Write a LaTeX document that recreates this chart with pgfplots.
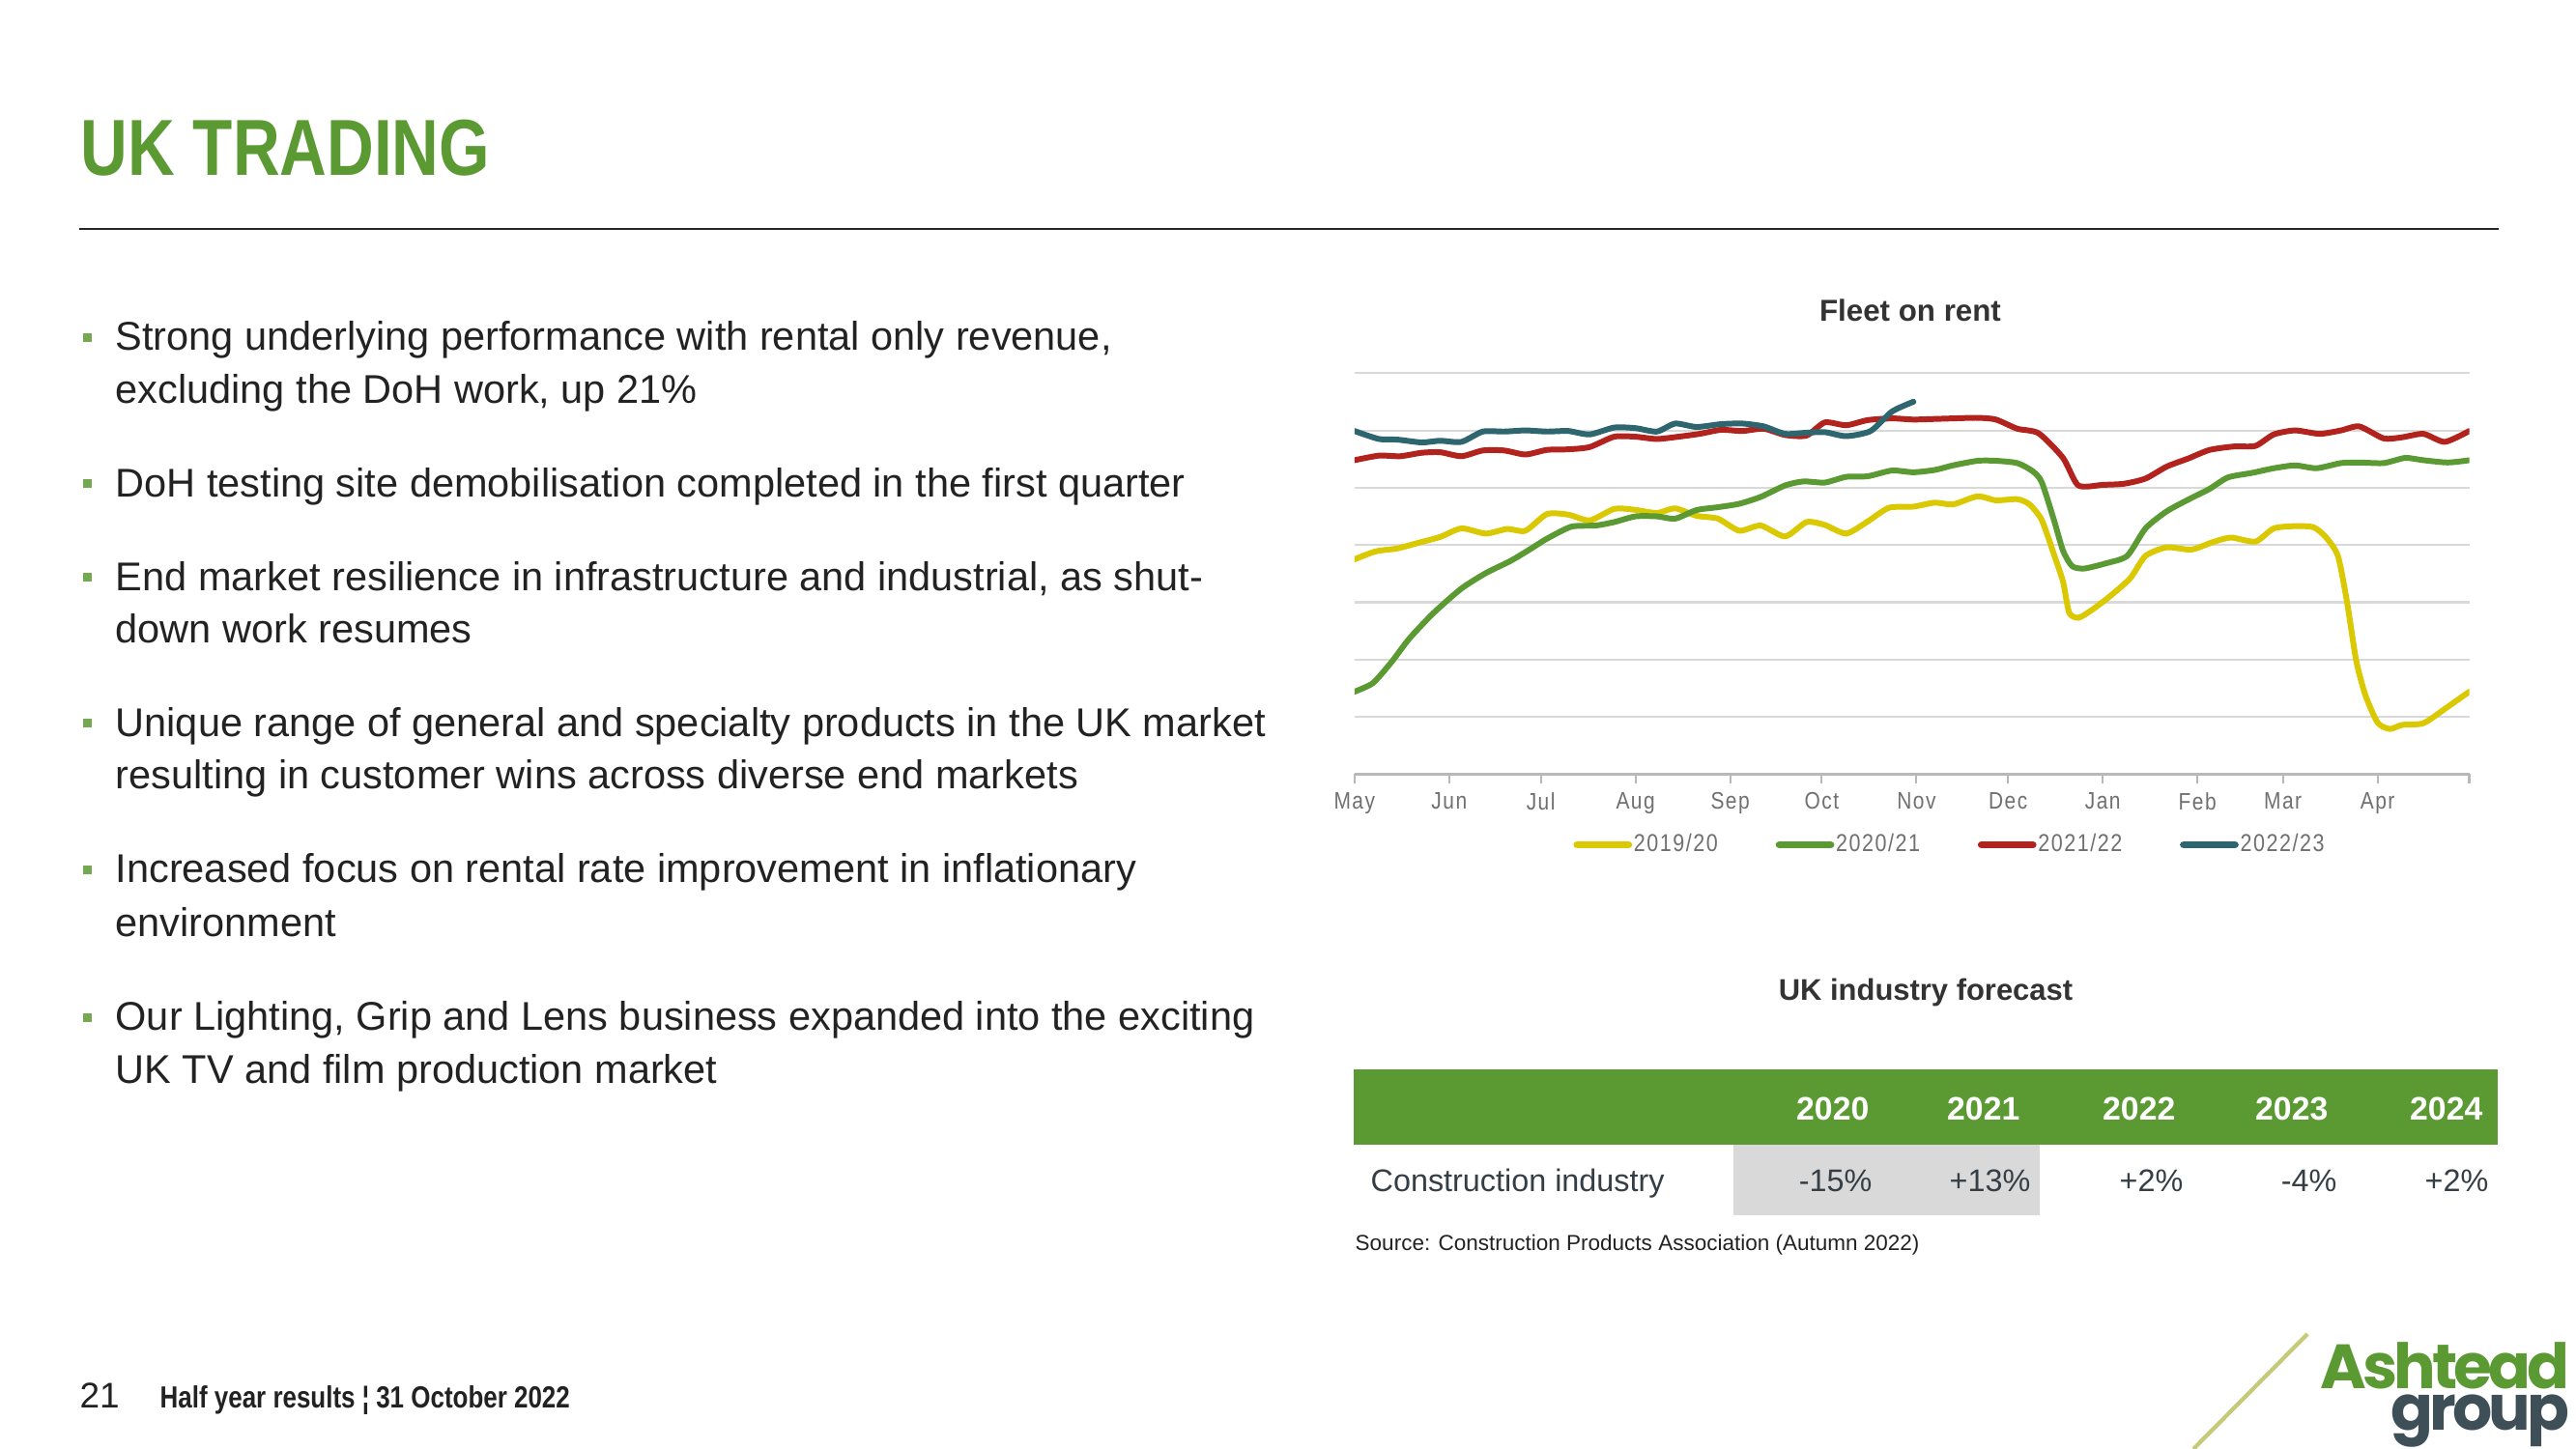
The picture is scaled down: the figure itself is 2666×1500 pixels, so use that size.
\documentclass[border=0pt]{standalone}
\usepackage{pgfplots}
\pgfplotsset{compat=1.18}
\usepackage{fontspec}
\setmainfont{Liberation Sans}
\newfontfamily\condfont{Liberation Sans}[FakeStretch=0.82]
\newfontfamily\tickfont{Liberation Sans}[FakeStretch=0.85,LetterSpace=6]
\newfontfamily\logofont{Poppins}[LetterSpace=-6]
\definecolor{agreen}{HTML}{5B9A32}
\definecolor{ayellow}{HTML}{DAC800}
\definecolor{ared}{HTML}{B3231E}
\definecolor{ateal}{HTML}{2E6670}
\definecolor{txt}{HTML}{222222}
\definecolor{gridc}{HTML}{D9D9D9}
\definecolor{tickc}{HTML}{707070}
\definecolor{tabtxt}{HTML}{363E45}
\definecolor{cellgray}{HTML}{D9D9D9}
\definecolor{logogrey}{HTML}{3E4F58}
\definecolor{olive}{HTML}{C5CA78}
\begin{document}
\begin{tikzpicture}[x=0.01cm,y=-0.01cm]
\fill[white] (0,0) rectangle (2666,1500);
% title and rule
\node[anchor=base west, inner sep=0, text=agreen, font=\condfont\bfseries\fontsize{23.4}{28}\selectfont] at (83,182) {UK TRADING};
\draw[line width=0.6pt, black!85] (82,237) -- (2586,237);
% bullets
\foreach \yy in {349,500,597,748,900,1053}{
  \fill[agreen!85!white] (85.5,\yy-4.5) rectangle (94.5,\yy+4.5);
}
\tikzset{bt/.style={anchor=base west, inner sep=0, text=txt, font=\fontsize{11.8}{13}\selectfont}}
\node[bt] at (119,363) {Strong underlying performance with rental only revenue,};
\node[bt] at (119,417) {excluding the DoH work, up 21\%};
\node[bt] at (119,514) {DoH testing site demobilisation completed in the first quarter};
\node[bt] at (119,611) {End market resilience in infrastructure and industrial, as shut-};
\node[bt] at (119,665) {down work resumes};
\node[bt] at (119,762) {Unique range of general and specialty products in the UK market};
\node[bt] at (119,816) {resulting in customer wins across diverse end markets};
\node[bt] at (119,913) {Increased focus on rental rate improvement in inflationary};
\node[bt] at (119,969) {environment};
\node[bt] at (119,1066) {Our Lighting, Grip and Lens business expanded into the exciting};
\node[bt] at (119,1121) {UK TV and film production market};
% chart title
\node[anchor=center, inner sep=0, text=black!80, font=\bfseries\fontsize{8.9}{10}\selectfont] at (1977,321) {Fleet on rent};
% chart
\begin{axis}[at={(14.01cm,-8.01cm)}, anchor=south west,
  width=11.53cm, height=4.15cm, scale only axis,
  xmin=0, xmax=365, ymin=0, ymax=7,
  axis x line*=bottom, axis y line*=left,
  y axis line style={draw=none},
  x axis line style={gridc!85!black, line width=0.6pt},
  ytick={1,2,3,4,5,6,7}, yticklabels={}, ytick style={draw=none},
  ymajorgrids, grid style={gridc, line width=0.6pt},
  xtick={0,31,61,92,123,153,184,214,245,276,304,335,365},
  xticklabels={May,Jun,Jul,Aug,Sep,Oct,Nov,Dec,Jan,Feb,Mar,Apr,{}},
  xtick style={gridc!85!black, line width=0.6pt},
  tick align=outside, major tick length=0.1cm,
  xticklabel style={font=\tickfont\fontsize{7}{8}\selectfont, text=tickc, anchor=north, inner sep=0pt, yshift=-2.4pt},
  legend style={at={(0.534,-0.176)}, anchor=center, draw=none, fill=none,
    font=\tickfont\fontsize{7.2}{8}\selectfont, text=tickc,
    nodes={inner sep=0.5pt},
    /tikz/every even column/.append style={column sep=0.58cm}},
  legend columns=4,
  legend image code/.code={\draw[line width=2.2pt, line cap=round] (0cm,0cm) -- (0.53cm,0cm);},
  every axis plot/.append style={line width=1.7pt, line cap=round, line join=round, smooth, tension=0.4},
]
\addplot[ayellow] coordinates {(0,3.75)(7,3.89)(14,3.94)(21,4.04)(28,4.14)(35,4.29)(43,4.20)(50,4.28)(56,4.25)(63,4.54)(70,4.53)(77,4.43)(85,4.63)(91,4.62)(99,4.56)(105,4.64)(112,4.51)(119,4.46)(126,4.25)(133,4.34)(141,4.15)(148,4.40)(154,4.35)(161,4.20)(168,4.41)(175,4.65)(183,4.67)(190,4.74)(196,4.71)(204,4.85)(210,4.78)(217,4.80)(221,4.71)(225,4.44)(229,3.84)(232,3.36)(234,2.82)(237,2.73)(241,2.85)(247,3.09)(254,3.42)(259,3.81)(266,3.96)(274,3.92)(281,4.05)(287,4.13)(295,4.06)(301,4.29)(308,4.33)(314,4.31)(318,4.14)(322,3.81)(325,3.00)(328,1.98)(331,1.38)(335,0.90)(339,0.79)(343,0.86)(350,0.89)(357,1.14)(365,1.44)};
\addlegendentry{2019/20}
\addplot[agreen] coordinates {(0,1.44)(6,1.59)(12,1.95)(18,2.37)(26,2.82)(35,3.24)(43,3.51)(51,3.72)(57,3.91)(63,4.11)(71,4.32)(79,4.34)(85,4.40)(92,4.50)(99,4.50)(105,4.46)(112,4.61)(119,4.66)(126,4.72)(133,4.84)(141,5.04)(147,5.11)(154,5.09)(161,5.19)(168,5.20)(176,5.30)(183,5.27)(190,5.31)(196,5.39)(204,5.47)(210,5.47)(217,5.43)(222,5.29)(225,5.10)(229,4.44)(232,3.90)(235,3.63)(239,3.59)(246,3.68)(253,3.81)(259,4.29)(266,4.59)(274,4.82)(280,4.98)(286,5.18)(294,5.26)(301,5.34)(308,5.39)(315,5.34)(323,5.43)(329,5.44)(337,5.43)(344,5.52)(350,5.48)(358,5.44)(365,5.48)};
\addlegendentry{2020/21}
\addplot[ared] coordinates {(0,5.48)(8,5.56)(15,5.55)(22,5.61)(28,5.62)(35,5.55)(42,5.65)(49,5.65)(56,5.58)(63,5.66)(70,5.67)(77,5.71)(85,5.89)(92,5.89)(99,5.85)(106,5.89)(113,5.94)(120,6.01)(127,5.99)(134,6.03)(141,5.92)(148,5.91)(154,6.14)(161,6.09)(168,6.18)(176,6.21)(183,6.19)(190,6.20)(196,6.21)(204,6.22)(210,6.19)(217,6.03)(224,5.95)(232,5.52)(237,5.04)(245,5.05)(252,5.07)(259,5.16)(266,5.37)(273,5.51)(280,5.66)(288,5.72)(295,5.73)(301,5.93)(308,6.00)(316,5.94)(323,6.00)(329,6.07)(337,5.86)(343,5.88)(350,5.94)(357,5.80)(365,5.99)};
\addlegendentry{2021/22}
\addplot[ateal] coordinates {(0,5.99)(8,5.85)(14,5.84)(22,5.79)(28,5.82)(35,5.80)(42,5.98)(49,5.98)(56,6.00)(63,5.98)(70,5.99)(77,5.93)(85,6.05)(92,6.04)(99,5.98)(105,6.12)(112,6.06)(120,6.11)(127,6.12)(134,6.07)(141,5.94)(148,5.96)(154,5.97)(161,5.90)(169,5.99)(176,6.33)(183,6.50)};
\addlegendentry{2022/23}
\end{axis}
% forecast table
\node[anchor=base, inner sep=0, text=black!80, font=\bfseries\fontsize{8.8}{10}\selectfont] at (1993,1035) {UK industry forecast};
\fill[agreen] (1401,1107) rectangle (2585,1185);
\fill[cellgray] (1794,1185) rectangle (2111,1258);
\tikzset{hd/.style={anchor=base east, inner sep=0, text=white, font=\bfseries\fontsize{9.6}{11}\selectfont},
         vl/.style={anchor=base east, inner sep=0, text=tabtxt, font=\fontsize{9.2}{11}\selectfont}}
\node[hd] at (1935,1159) {2020};
\node[hd] at (2091,1159) {2021};
\node[hd] at (2252,1159) {2022};
\node[hd] at (2410,1159) {2023};
\node[hd] at (2570,1159) {2024};
\node[vl, anchor=base west] at (1418,1233) {Construction industry};
\node[vl] at (1938,1233) {-15\%};
\node[vl] at (2102,1233) {+13\%};
\node[vl] at (2260,1233) {+2\%};
\node[vl] at (2419,1233) {-4\%};
\node[vl] at (2576,1233) {+2\%};
\node[anchor=base west, inner sep=0, text=txt, font=\fontsize{6.4}{8}\selectfont] at (1402,1294) {Source: Construction Products Association (Autumn 2022)};
% footer
\node[anchor=base west, inner sep=0, text=txt, font=\fontsize{10.5}{12}\selectfont] at (82,1457) {21};
\node[anchor=base west, inner sep=0, text=txt, font=\condfont\bfseries\fontsize{9.0}{10}\selectfont] at (165,1457) {Half year results ¦ 31 October 2022};
% logo
\draw[olive, line width=1.2pt] (2270,1500) -- (2388,1381);
\node[anchor=base east, inner sep=0, text=agreen, font=\logofont\bfseries\fontsize{18.4}{20}\selectfont] at (2660,1437) {Ashtead};
\node[anchor=base east, inner sep=0, text=logogrey, font=\logofont\bfseries\fontsize{18.4}{20}\selectfont] at (2660,1480) {group};
\pgfresetboundingbox
\useasboundingbox (0,0) rectangle (2666,1500);
\end{tikzpicture}
\end{document}
